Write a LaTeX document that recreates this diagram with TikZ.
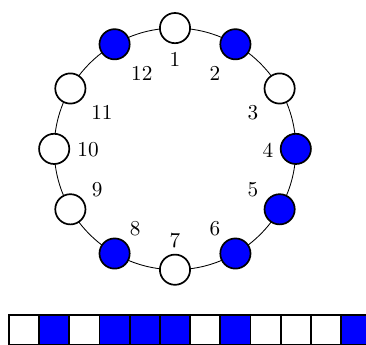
\documentclass[tikz,border=0pt]{standalone}
\tikzset{
  bead/.style={circle, draw, thick, minimum size=0.5cm, inner sep=0pt},
  on/.style={fill=blue},
  off/.style={fill=white},
  cell/.style={draw, thick, minimum size=0.5cm, inner sep=0pt},
  num/.style={inner sep=0pt}
}
\begin{document}
\begin{tikzpicture}
\useasboundingbox (-2.897,-3.230) rectangle (3.162,2.465);
\draw (0,0) circle (2cm);
% beads
\foreach \i/\s in {1/off,2/on,3/off,4/on,5/on,6/on,7/off,8/on,9/off,10/off,11/off,12/on}{
  \node[bead,\s] (b\i) at ({90-30*(\i-1)}:2cm) {};
}
% labels
\node[num] (l1) at (0,1.48) {1};
\node[num] (l2) at (0.66,1.25) {2};
\node[num] (l3) at (1.29,0.60) {3};
\node[num] (l4) at (1.54,-0.02) {4};
\node[num] (l5) at (1.29,-0.67) {5};
\node[num] (l6) at (0.66,-1.32) {6};
\node[num] (l7) at (0,-1.51) {7};
\node[num] (l8) at (-0.66,-1.32) {8};
\node[num] (l9) at (-1.29,-0.67) {9};
\node[num] (l10) at (-1.44,-0.02) {10};
\node[num] (l11) at (-1.21,0.60) {11};
\node[num] (l12) at (-0.55,1.25) {12};
% strip
\foreach \i/\s in {1/off,2/on,3/off,4/on,5/on,6/on,7/off,8/on,9/off,10/off,11/off,12/on}{
  \node[cell,\s] (c\i) at ({-2.75+0.5*\i-0.25},-3.0) {};
}
\end{tikzpicture}
\end{document}
